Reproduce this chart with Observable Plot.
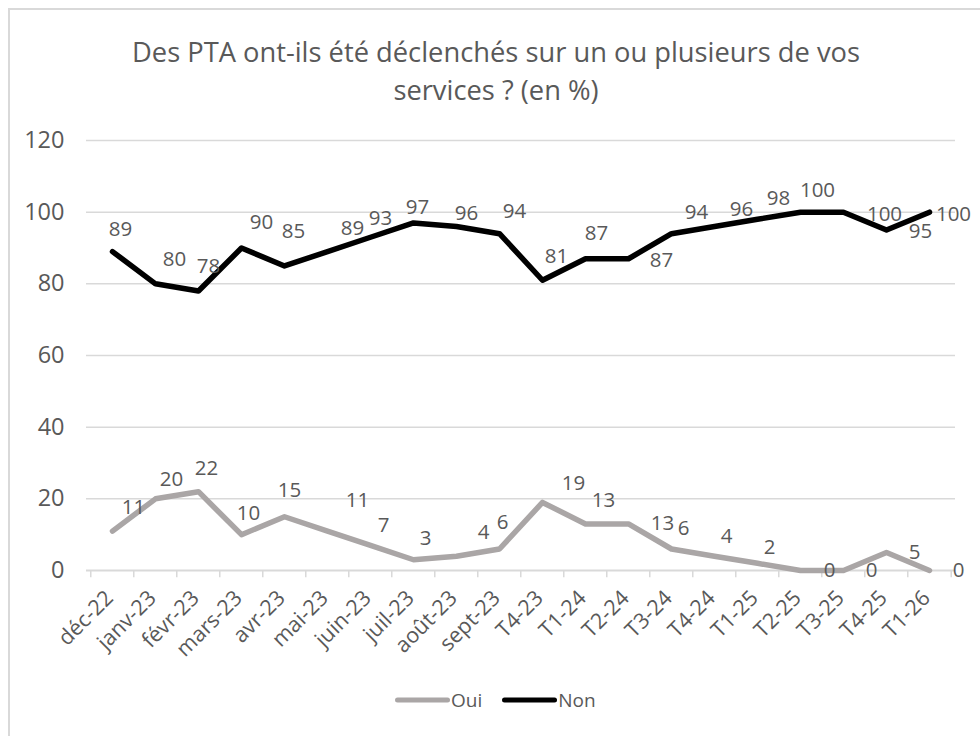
<!DOCTYPE html>
<html><head><meta charset="utf-8">
<script src="https://cdn.jsdelivr.net/npm/d3@7"></script>
<script src="https://cdn.jsdelivr.net/npm/@observablehq/plot@0.6"></script>
<style>
html,body{margin:0;padding:0;width:980px;height:736px;overflow:hidden;background:#fff;font-family:"Open Sans",sans-serif;}
#frame{position:absolute;left:8px;top:8px;width:2000px;height:2000px;border:2px solid #d9d9d9;box-sizing:border-box}
#title{position:absolute;left:0;top:33px;width:992px;text-align:center;font-size:27.3px;line-height:38px;color:#595959}
#chart{position:absolute;left:0;top:0}
#legend{position:absolute;left:395px;top:688px;display:flex;align-items:center;font-size:19px;color:#595959;height:24px}
#legend svg{display:block}
</style></head>
<body>
<div id="frame"></div>
<div id="chart"></div>
<div id="title">Des PTA ont-ils été déclenchés sur un ou plusieurs de vos<br>services ? (en %)</div>
<div id="legend">
  <svg width="55" height="10"><line x1="2.5" y1="5" x2="52.5" y2="5" stroke="#aaa6a6" stroke-width="5" stroke-linecap="round"/></svg>
  <span style="margin-left:1px">Oui</span>
  <svg width="55" height="10" style="margin-left:20px"><line x1="2.5" y1="5" x2="52.5" y2="5" stroke="#000" stroke-width="5" stroke-linecap="round"/></svg>
  <span style="margin-left:1px">Non</span>
</div>
<script>
const categories = ["déc-22","janv-23","févr-23","mars-23","avr-23","mai-23","juin-23","juil-23","août-23","sept-23","T4-23","T1-24","T2-24","T3-24","T4-24","T1-25","T2-25","T3-25","T4-25","T1-26"];
const oui = [11,20,22,10,15,11,7,3,4,6,19,13,13,6,4,2,0,0,5,0];
const non = [89,80,78,90,85,89,93,97,96,94,81,87,87,94,96,98,100,100,95,100];
const yTicks = [0,20,40,60,80,100,120];

// label placement (manual, as in the original chart)
const nonLabelDx = [8,19,10,20,9,25,10,4,10,15,14,11,33,25,27,21,17,41,34,24];
const nonLabelDy = [-22,-24,-25,-26,-34,-23,-19,-15,-13,-22,-24,-25,2,-21,-17,-21,-22,2,1,2];
const ouiLabelDx = [21,16,8,7,5,30,13,12,27,3,31,18,34,12,12,12,29,28,28,29];
const ouiLabelDy = [-24,-19,-23,-21,-26,-31,-20,-21,-24,-27,-19,-23,0,-21,-20,-16,0,0,0,0];

const rows = categories.map((c, i) => ({cat: c, oui: oui[i], non: non[i], i}));

const W = 980, H = 736, mL = 86, mR = 25, mT = 140, mB = 166;
const step = (W - mL - mR) / categories.length;
const grey = "#aaa6a6", txt = "#595959", gridC = "#d9d9d9";

const labelMarks = [];
rows.forEach((r, i) => {
  labelMarks.push(Plot.text([r], {x: "cat", y: "non", text: d => String(d.non), dx: nonLabelDx[i], dy: nonLabelDy[i], fill: txt, fontSize: 20.5}));
  labelMarks.push(Plot.text([r], {x: "cat", y: "oui", text: d => String(d.oui), dx: ouiLabelDx[i], dy: ouiLabelDy[i], fill: txt, fontSize: 20.5}));
});

const hasAxisMarks = typeof Plot.axisX === "function";
const axisMarks = hasAxisMarks ? [
  Plot.axisY(yTicks, {tickSize: 0, tickPadding: 22, fontSize: 23.5, fill: txt, label: null}),
  Plot.axisX(categories, {tickRotate: -45, tickSize: 0, tickPadding: 24, dx: -3, fontSize: 21.5, fill: txt, label: null})
] : [];

const chart = Plot.plot({
  width: W, height: H,
  marginLeft: mL, marginRight: mR, marginTop: mT, marginBottom: mB,
  style: {background: "transparent", color: txt, fontFamily: "'Open Sans', sans-serif", fontSize: "20px"},
  x: {type: "point", domain: categories, padding: 0.5, tickRotate: -45, tickSize: 0, tickPadding: 24, label: null, axis: hasAxisMarks ? null : "bottom"},
  y: {domain: [0, 120], ticks: yTicks, tickSize: 0, tickPadding: 22, label: null, axis: hasAxisMarks ? null : "left"},
  marks: [
    Plot.ruleY(yTicks.filter(v => v > 0), {stroke: gridC, strokeWidth: 1.5}),
    Plot.ruleY([0], {stroke: gridC, strokeWidth: 2}),
    Plot.ruleX(categories, {x: d => d, y1: 0, y2: -2, dx: -step / 2, stroke: gridC, strokeWidth: 1.5}),
    Plot.ruleX([categories[categories.length - 1]], {x: d => d, y1: 0, y2: -2, dx: step / 2, stroke: gridC, strokeWidth: 1.5}),
    Plot.line(rows, {x: "cat", y: "oui", stroke: grey, strokeWidth: 5.5, strokeLinejoin: "round", strokeLinecap: "round"}),
    Plot.line(rows, {x: "cat", y: "non", stroke: "#000", strokeWidth: 5.5, strokeLinejoin: "round", strokeLinecap: "round"}),
    ...axisMarks,
    ...labelMarks
  ]
});
document.getElementById("chart").appendChild(chart);
</script>
</body></html>
